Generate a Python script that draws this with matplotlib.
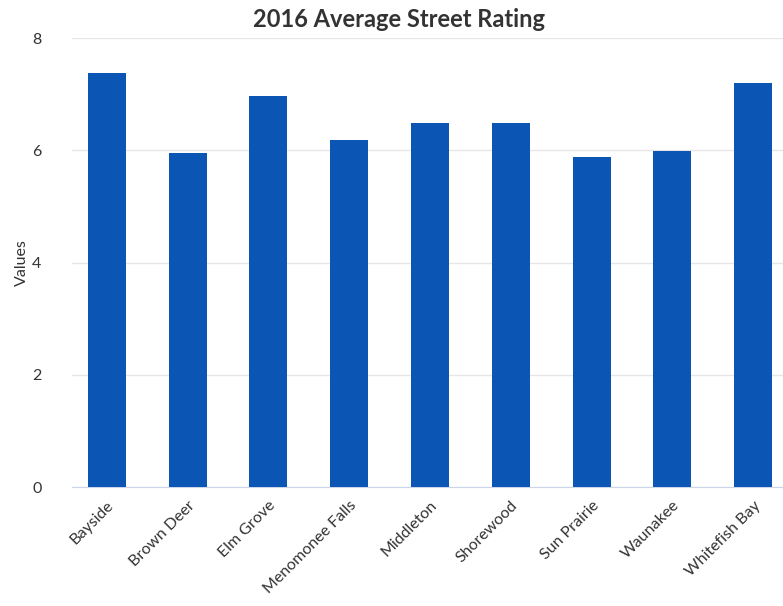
import matplotlib
matplotlib.use('Agg')
import matplotlib.pyplot as plt

# data
towns = ['Bayside', 'Brown Deer', 'Elm Grove', 'Menomonee Falls', 'Middleton',
         'Shorewood', 'Sun Prairie', 'Waunakee', 'Whitefish Bay']
ratings = [7.38, 5.95, 6.97, 6.19, 6.49, 6.49, 5.88, 5.99, 7.2]
yticks = [0, 2, 4, 6, 8]

plt.rcParams['font.family'] = ['Lato', 'DejaVu Sans']

fig = plt.figure(figsize=(7.83, 6.06), dpi=100)
ax = fig.add_axes([0.092, 0.196, 0.908, 0.741])

x = range(len(towns))
ax.bar(x, ratings, width=0.47, color='#0b55b5', zorder=3)

ax.set_ylim(0, 8)
ax.set_xlim(-0.43, 8.37)
ax.set_yticks(yticks)
ax.set_yticklabels([str(t) for t in yticks], fontsize=11.5, color='#333333')
ax.set_xticks(list(x))
ax.set_xticklabels(towns, rotation=45, ha='right', rotation_mode='anchor',
                   fontsize=11.5, color='#333333')
ax.tick_params(axis='y', length=0, pad=22)
ax.tick_params(axis='x', length=0, pad=8)

ax.grid(axis='y', color='#e6e6e6', linewidth=1, zorder=0)
for s in ['top', 'right', 'left']:
    ax.spines[s].set_visible(False)
ax.spines['bottom'].set_color('#ccd6eb')

ax.set_ylabel('Values', fontsize=11.5, color='#333333', labelpad=2)
fig.text(0.509, 0.967, '2016 Average Street Rating', ha='center', va='center',
         fontsize=17, fontweight='bold', color='#333333')

fig.savefig('out.png', dpi=100)
